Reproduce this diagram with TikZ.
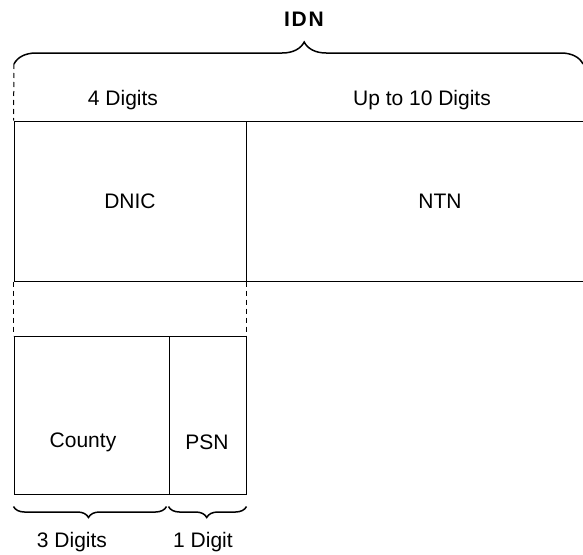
\documentclass[tikz,border=0pt]{standalone}
\usepackage{fontspec}
\setmainfont{Liberation Sans}
\newfontfamily\idnfont[LetterSpace=8]{Liberation Sans}
\usetikzlibrary{decorations.pathreplacing}

\begin{document}
\begin{tikzpicture}[x=1pt,y=-1pt,line width=1pt,
    field/.style={draw,rectangle,inner sep=0pt,minimum height=160pt},
    lbl/.style={font=\fontsize{21}{25}\selectfont},
    dsh/.style={dash pattern=on 5pt off 4pt},
    brc/.style={decorate,line width=1.5pt,decoration={brace,amplitude=#1}}]
    \useasboundingbox (0,0) rectangle (583,554);
      \node[field,lbl,minimum width=232pt] (dnic) at (130,201) {DNIC};
      \node[field,lbl,minimum width=388pt] (ntn) at (440,201) {NTN};
      \node[field,minimum width=155pt,minimum height=158pt] (county) at (91.5,415) {};
      \node[field,minimum width=77pt,minimum height=158pt] (psn) at (207.5,415) {};
      \node[lbl] (countytxt) at (83,442) {County};
      \node[lbl] (psntxt) at (207,442) {PSN};
      \coordinate (idnl) at (14,64);
      \coordinate (idnr) at (583,64);
      \node[font=\fontsize{21}{25}\selectfont\idnfont\bfseries] (idn) at (304,19) {IDN};
      \node[lbl] (dnicdig) at (123,100) {4 Digits};
      \node[lbl] (ntndig) at (422,100) {Up to 10 Digits};
      \node[lbl] (countydig) at (72,542) {3 Digits};
      \node[lbl] (psndig) at (203,542) {1 Digit};
      \draw[brc=22pt,decoration={aspect=0.51}] (idnl) -- (idnr);
      \draw[brc=11pt,decoration={mirror,aspect=0.49}]
        ([yshift=-12pt]county.south west) -- ([xshift=-3pt,yshift=-12pt]county.south east);
      \draw[brc=11pt,decoration={mirror,aspect=0.49}]
        ([yshift=-12pt]psn.south west) -- ([yshift=-12pt]psn.south east);
      \draw[dsh] (idnl) -- (dnic.north west);
      \draw[dsh] (dnic.south west) -- (county.north west);
      \draw[dsh] (dnic.south east) -- (psn.north east);
   \end{tikzpicture}
\end{document}
